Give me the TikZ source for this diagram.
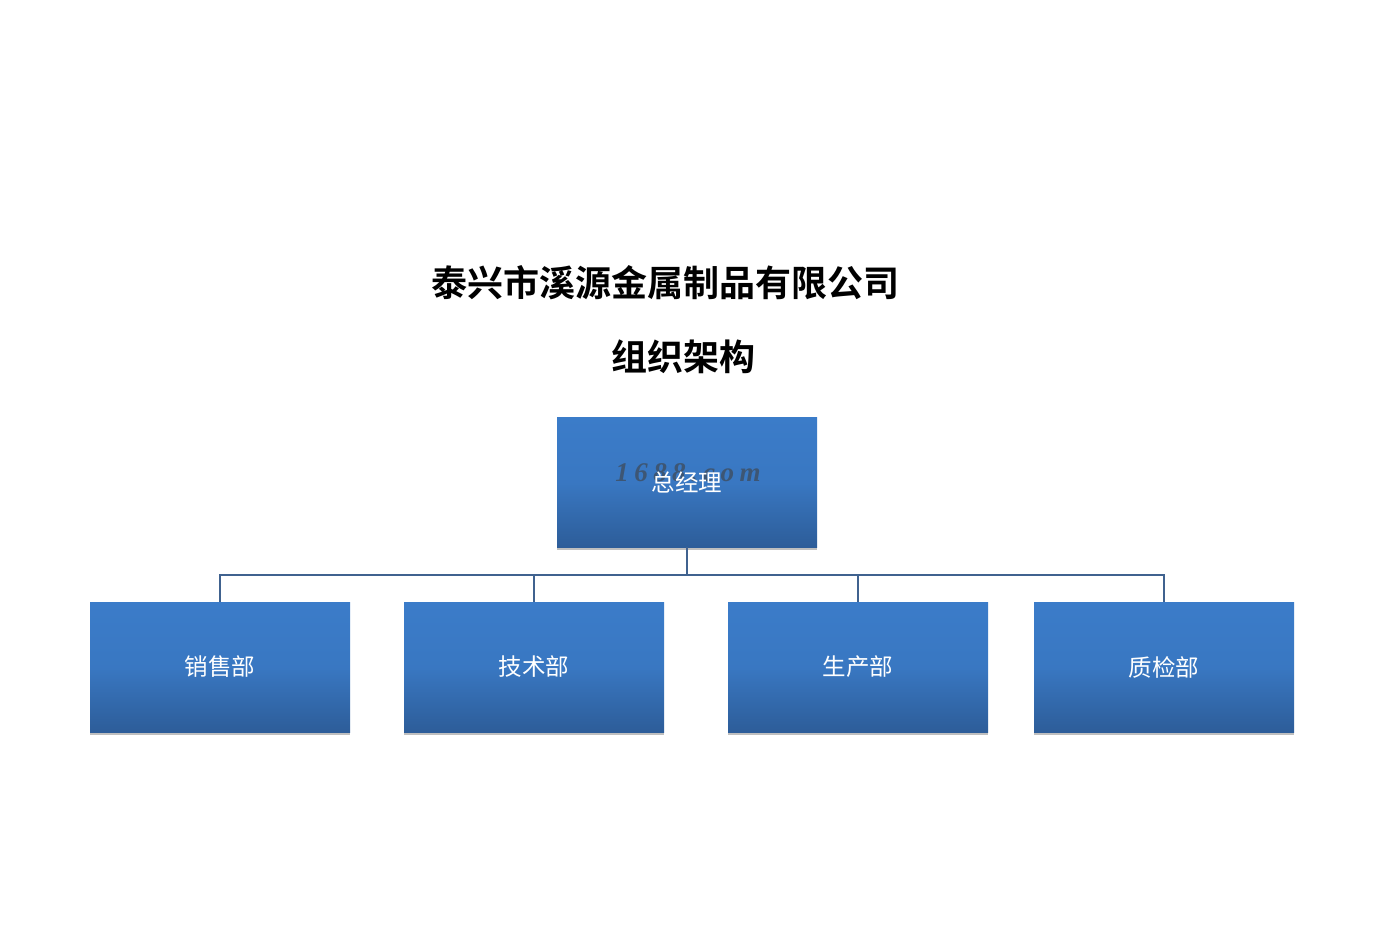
\documentclass[tikz,border=0pt]{standalone}
\usepackage{fontspec}
\setmainfont{Liberation Serif}
\newfontfamily\cjkbold{Noto Sans CJK SC Bold}
\newfontfamily\cjk{Noto Sans CJK SC}
\newfontfamily\wmfont[LetterSpace=20]{Liberation Serif}
\usetikzlibrary{shadows}
\definecolor{boxtop}{HTML}{3B7CC9}
\definecolor{boxbot}{HTML}{2D5D99}
\definecolor{linecol}{HTML}{40628F}
\tikzset{
  orgbox/.style={rectangle, minimum width=260pt, minimum height=130pt, inner sep=0pt,
    top color=boxtop, bottom color=boxbot, middle color=boxtop!85!boxbot,
    drop shadow={shadow xshift=0pt, shadow yshift=-3pt, fill=black, opacity=0.25},
    text=white, font=\cjk\fontsize{23.5}{26}\selectfont},
  link/.style={draw=linecol, line width=1.6pt},
  titletext/.style={font=\cjkbold\fontsize{36}{40}\selectfont, text=black, inner sep=0pt}
}
\begin{document}
\begin{tikzpicture}[x=1pt,y=-1pt]
\useasboundingbox[fill=white] (0,0) rectangle (1375,943);
\node[titletext] (t1) at (665,283) {泰兴市溪源金属制品有限公司};
\node[titletext] (t2) at (683,357) {组织架构};
\node[orgbox] (gm) at (687,482) {};
\node[font=\wmfont\bfseries\itshape\fontsize{27}{30}\selectfont, text=black!75, opacity=0.6] (wm) at (688,473) {1688.com};
\node[text=white, font=\cjk\fontsize{23.5}{26}\selectfont] (gmt) at (687,482) {总经理};
\node[orgbox] (s) at (220,667) {销售部};
\node[orgbox] (j) at (534,667) {技术部};
\node[orgbox] (p) at (858,667) {生产部};
\node[orgbox] (q) at (1164,667) {质检部};
\coordinate (bus) at (687,575);
\draw[link] (gm.south) -- (bus);
\draw[link] (s.north) |- (bus) -| (q.north);
\draw[link] (j.north) -- (j.north |- bus);
\draw[link] (p.north) -- (p.north |- bus);
\end{tikzpicture}
\end{document}
